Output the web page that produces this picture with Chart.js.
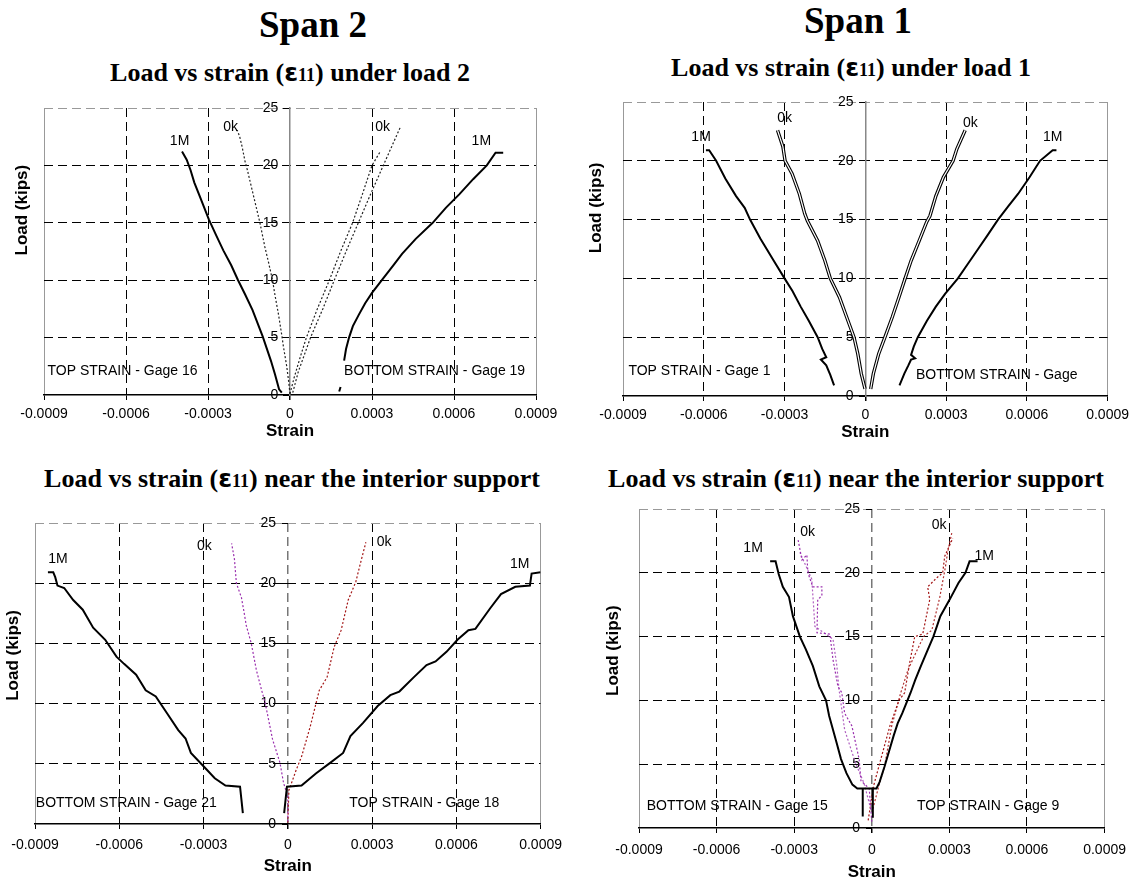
<!DOCTYPE html>
<html>
<head>
<meta charset="utf-8">
<title>Load vs strain</title>
<script src="https://cdn.jsdelivr.net/npm/chart.js@4.4.0/dist/chart.umd.min.js"></script>
<style>
  body { margin: 0; width: 1135px; height: 883px; background: #fff; position: relative; overflow: hidden;
         font-family: 'Liberation Serif', 'Times New Roman', serif; }
  .head { position: absolute; font-weight: bold; white-space: nowrap; transform: translateX(-50%); line-height: 1; color: #000; }
  .span { font-size: 37px; }
  .sub { font-size: 26px; }
  .eps { font-family: 'DejaVu Sans', sans-serif; font-size: 25px; }
  .idx { font-size: 18px; }
  canvas { position: absolute; }
</style>
</head>
<body>
<div class="head span" style="left:313px;top:6px">Span 2</div>
<div class="head span" style="left:858px;top:2px">Span 1</div>
<div class="head sub" style="left:290px;top:60px">Load vs strain (<span class="eps">ε</span><span class="idx">11</span>) under load 2</div>
<div class="head sub" style="left:851px;top:55px">Load vs strain (<span class="eps">ε</span><span class="idx">11</span>) under load 1</div>
<div class="head sub" style="left:292px;top:466px">Load vs strain (<span class="eps">ε</span><span class="idx">11</span>) near the interior support</div>
<div class="head sub" style="left:856px;top:466px">Load vs strain (<span class="eps">ε</span><span class="idx">11</span>) near the interior support</div>

<canvas id="span2Load" width="565" height="357" style="left:0;top:88px"></canvas>
<canvas id="span1Load" width="565" height="364" style="left:570px;top:82px"></canvas>
<canvas id="span2Support" width="570" height="377" style="left:0;top:503px"></canvas>
<canvas id="span1Support" width="565" height="392" style="left:570px;top:494px"></canvas>

<script>
// axis ticks
const strainTicks = [-0.0009, -0.0006, -0.0003, 0, 0.0003, 0.0006, 0.0009];
const loadTicks = [0, 5, 10, 15, 20, 25];

// readings as [strain, load (kips)]; 1M = after 1 million cycles, 0k = initial static test

// Span 2, under load 2
const gage16_1M = [[-0.000030,0.2],[-0.000040,0.5],[-0.000055,1.8],[-0.000070,3.0],[-0.000100,5.1],[-0.000137,7.4],[-0.000165,8.8],[-0.000190,10.0],[-0.000215,11.3],[-0.000244,12.6],[-0.000270,13.9],[-0.000297,15.3],[-0.000330,17.3],[-0.000350,18.5],[-0.000364,19.6],[-0.000378,20.5],[-0.000395,21.2]];
const gage16_0k = [[0.000000,0.1],[-0.000005,1.2],[-0.000012,2.5],[-0.000024,4.2],[-0.000030,5.2],[-0.000042,7.0],[-0.000055,8.7],[-0.000064,10.0],[-0.000078,11.5],[-0.000092,12.9],[-0.000110,15.0],[-0.000120,16.0],[-0.000140,18.0],[-0.000156,19.6],[-0.000165,20.4],[-0.000175,21.6],[-0.000184,22.5],[-0.000192,23.0],[-0.000200,23.1]];
const gage19_1M = [[0.000180,0.3],[0.000185,0.7],null,[0.000198,3.0],[0.000205,4.0],[0.000216,5.0],[0.000230,6.0],[0.000252,7.0],[0.000275,8.0],[0.000300,8.9],[0.000336,10.0],[0.000378,11.3],[0.000410,12.3],[0.000460,13.6],[0.000522,15.0],[0.000570,16.3],[0.000620,17.5],[0.000670,18.8],[0.000720,20.0],[0.000752,21.1],[0.000780,21.1]];
const gage19_0kA = [[0.000000,0.1],[0.000015,1.5],[0.000040,3.5],[0.000060,5.0],[0.000100,7.5],[0.000144,10.0],[0.000185,12.5],[0.000229,15.0],[0.000265,17.5],[0.000300,20.0],[0.000330,21.2]];
const gage19_0kB = [[0.000010,0.2],[0.000030,2.0],[0.000075,5.0],[0.000120,7.5],[0.000162,10.0],[0.000205,12.5],[0.000250,15.0],[0.000295,17.5],[0.000347,20.3],[0.000375,21.8],[0.000405,23.4]];

// Span 1, under load 1
const gage1_1M = [[-0.000116,0.9],[-0.000130,1.8],[-0.000145,2.6],[-0.000165,3.1],[-0.000145,3.3],[-0.000160,4.0],[-0.000177,5.0],[-0.000210,6.4],[-0.000240,7.6],[-0.000270,8.9],[-0.000300,10.0],[-0.000340,11.5],[-0.000390,13.4],[-0.000428,15.0],[-0.000448,16.0],[-0.000480,17.0],[-0.000520,18.5],[-0.000554,20.0],[-0.000580,20.9],[-0.000592,20.9]];
const gage1_0k = [[-0.000001,0.6],[-0.000015,1.9],[-0.000028,3.6],[-0.000042,5.0],[-0.000069,6.7],[-0.000096,8.4],[-0.000130,10.0],[-0.000150,11.5],[-0.000177,13.2],[-0.000215,14.9],[-0.000225,15.5],[-0.000245,17.2],[-0.000272,18.9],[-0.000298,20.0],[-0.000306,21.2],[-0.000326,22.6]];
const gageB_1M = [[0.000127,0.9],[0.000145,1.9],[0.000160,2.6],[0.000170,3.1],[0.000185,3.2],[0.000170,3.5],[0.000180,4.2],[0.000195,5.0],[0.000229,6.4],[0.000262,7.6],[0.000297,8.7],[0.000344,10.0],[0.000380,11.2],[0.000419,12.5],[0.000455,13.7],[0.000493,15.0],[0.000530,16.1],[0.000568,17.2],[0.000610,18.6],[0.000649,20.0],[0.000696,20.9],[0.000710,20.9]];
const gageB_0k = [[0.000020,0.6],[0.000030,1.9],[0.000050,3.6],[0.000073,5.0],[0.000100,6.7],[0.000125,8.4],[0.000148,10.0],[0.000170,11.5],[0.000200,13.2],[0.000228,14.8],[0.000240,15.3],[0.000262,17.0],[0.000290,18.6],[0.000326,20.0],[0.000340,21.0],[0.000371,22.6]];

// Span 2, near the interior support
const gage21_1M = [[-0.000160,0.9],[-0.000165,2.0],[-0.000170,3.1],[-0.000222,3.2],[-0.000260,3.8],[-0.000300,4.8],[-0.000345,5.9],[-0.000364,7.1],[-0.000390,7.8],[-0.000430,9.2],[-0.000470,10.6],[-0.000506,11.1],[-0.000540,12.4],[-0.000583,13.3],[-0.000610,13.9],[-0.000650,15.3],[-0.000693,16.3],[-0.000730,17.8],[-0.000764,18.6],[-0.000796,19.6],[-0.000820,19.8],[-0.000828,20.5],[-0.000835,20.9],[-0.000854,20.9]];
const gage18_1M = [[-0.000013,0.9],[-0.000008,2.0],[-0.000003,3.1],[0.000049,3.2],[0.000100,4.2],[0.000152,5.1],[0.000197,5.9],[0.000223,7.3],[0.000268,8.4],[0.000320,9.8],[0.000365,10.7],[0.000397,11.0],[0.000449,12.2],[0.000494,13.2],[0.000526,13.5],[0.000565,14.3],[0.000604,15.3],[0.000643,16.1],[0.000668,16.2],[0.000720,17.9],[0.000759,19.1],[0.000810,19.7],[0.000862,19.8],[0.000868,20.8],[0.000900,20.9]];
const gage21_0k = [[0.000000,0.2],[0.000000,2.3],[-0.000015,3.4],[-0.000028,5.1],[-0.000054,7.0],[-0.000080,10.0],[-0.000093,11.1],[-0.000112,12.8],[-0.000130,15.0],[-0.000148,16.5],[-0.000155,17.5],[-0.000165,18.8],[-0.000183,20.0],[-0.000190,22.0],[-0.000200,23.3]];
const gage18_0k = [[0.000000,0.1],[0.000004,2.8],[0.000030,4.5],[0.000049,5.6],[0.000080,8.1],[0.000112,11.1],[0.000140,12.2],[0.000165,14.7],[0.000190,16.1],[0.000215,18.6],[0.000242,20.1],[0.000258,21.6],[0.000278,23.4]];

// Span 1, near the interior support
const gage15_1M = [[-0.000035,0.9],[-0.000035,3.1],[0.000004,3.1],[-0.000056,3.1],[-0.000075,3.4],[-0.000098,4.3],[-0.000119,5.4],[-0.000135,6.6],[-0.000150,7.7],[-0.000165,8.8],[-0.000177,10.0],[-0.000203,11.1],[-0.000228,12.7],[-0.000255,14.0],[-0.000278,15.0],[-0.000305,16.6],[-0.000320,18.1],[-0.000344,18.9],[-0.000360,19.9],[-0.000372,20.9],[-0.000393,20.9]];
const gage9_1M = [[0.000004,0.8],[0.000004,2.0],[0.000004,3.1],[0.000018,3.1],[0.000030,3.6],[0.000049,4.8],[0.000065,5.9],[0.000084,7.2],[0.000100,8.2],[0.000118,9.0],[0.000150,10.6],[0.000168,11.6],[0.000190,12.7],[0.000217,14.0],[0.000238,15.0],[0.000265,16.6],[0.000301,17.9],[0.000335,19.2],[0.000362,20.0],[0.000378,20.9],[0.000409,20.9]];
const gage15_0kA = [[0.000000,0.5],[-0.000010,3.1],[-0.000042,3.7],[-0.000049,5.4],[-0.000077,8.0],[-0.000105,9.0],[-0.000116,10.6],[-0.000131,11.1],[-0.000150,13.2],[-0.000162,15.2],[-0.000212,15.3],[-0.000209,17.9],[-0.000193,18.2],[-0.000193,18.9],[-0.000228,18.9],[-0.000247,20.0],[-0.000251,21.4],[-0.000270,21.0],[-0.000286,22.7]];
const gage15_0kB = [[-0.000004,1.5],[-0.000030,3.5],[-0.000063,5.1],[-0.000105,7.7],[-0.000127,10.9],[-0.000135,12.7],[-0.000150,14.8],[-0.000220,15.8],[-0.000232,19.5],[-0.000278,21.6]];
const gage9_0kA = [[-0.000014,0.6],[0.000007,3.3],[0.000035,5.4],[0.000070,8.0],[0.000105,10.0],[0.000127,10.6],[0.000147,13.0],[0.000166,15.0],[0.000197,15.2],[0.000224,17.9],[0.000216,18.9],[0.000251,19.6],[0.000274,20.0],[0.000282,21.3],[0.000313,22.7]];
const gage9_0kB = [[0.000004,1.5],[0.000030,3.5],[0.000049,4.8],[0.000077,8.0],[0.000112,10.6],[0.000140,12.4],[0.000172,13.8],[0.000200,15.0],[0.000232,15.5],[0.000250,17.0],[0.000263,18.1],[0.000285,20.5],[0.000293,21.6],[0.000310,23.2]];

Chart.defaults.font.family = '"Liberation Sans", Arial, sans-serif';
Chart.defaults.font.size = 14;
Chart.defaults.color = '#000';

const toPoints = arr => arr.map(p => p ? { x: p[0], y: p[1] } : { x: null, y: null });

function solid(data) {
  return { data: toPoints(data), borderColor: '#000', borderWidth: 2, showLine: true, pointRadius: 0, order: 0 };
}
function dotted(data, color) {
  return { data: toPoints(data), borderColor: color, borderWidth: 1.2, borderDash: [2, 2], showLine: true, pointRadius: 0, order: 1 };
}
// thin double line: black stroke with a white core
function hollow(data) {
  return [
    { data: toPoints(data), borderColor: '#fff', borderWidth: 1.2, showLine: true, pointRadius: 0, order: 1 },
    { data: toPoints(data), borderColor: '#000', borderWidth: 3.4, showLine: true, pointRadius: 0, order: 2 }
  ];
}

// text inside the plot area and the rotated load title
const notesPlugin = {
  id: 'notes',
  afterDatasetsDraw(chart, args, opts) {
    const { ctx, scales: { x, y }, chartArea } = chart;
    ctx.save();
    ctx.fillStyle = '#000';
    ctx.font = '14px "Liberation Sans", Arial, sans-serif';
    ctx.textBaseline = 'middle';
    opts.labels.forEach(n => {
      ctx.textAlign = n.align || 'center';
      ctx.fillText(n.text, x.getPixelForValue(n.x), y.getPixelForValue(n.y));
    });
    ctx.font = 'bold 17px "Liberation Sans", Arial, sans-serif';
    ctx.translate(chartArea.left - opts.titleGap, y.getPixelForValue(opts.titleLoad));
    ctx.rotate(-Math.PI / 2);
    ctx.textAlign = 'center';
    ctx.fillText('Load (kips)', 0, 0);
    ctx.restore();
  }
};

function drawPanel(id, cfg) {
  const edge = v => Math.abs(v) > 0.00089;
  new Chart(document.getElementById(id), {
    type: 'scatter',
    data: { datasets: cfg.datasets },
    options: {
      responsive: false,
      animation: false,
      layout: { padding: cfg.padding },
      plugins: {
        legend: { display: false },
        tooltip: { enabled: false },
        notes: { labels: cfg.notes, titleLoad: cfg.titleLoad, titleGap: cfg.titleGap }
      },
      scales: {
        x: {
          type: 'linear', position: 'bottom', min: -0.0009, max: 0.0009,
          afterBuildTicks: s => { s.ticks = strainTicks.map(v => ({ value: v })); },
          afterFit: s => { s.height = cfg.xHeight; },
          ticks: { padding: cfg.tickPad, maxRotation: 0, autoSkip: false, callback: v => String(v) },
          grid: {
            color: c => {
              const v = c.tick.value;
              if (edge(v)) return '#999';
              if (v === 0) return cfg.zeroDashed ? '#777' : 'rgba(0,0,0,0)';
              return '#000';
            },
            lineWidth: c => (c.tick.value === 0 ? 1.5 : 1),
            tickColor: '#000', tickLength: 5, tickBorderDash: []
          },
          border: { display: true, color: '#000', width: 1.5, dash: c => (edge(c.tick.value) ? [] : [9, 5]) },
          title: { display: true, text: 'Strain', font: { size: 17, weight: 'bold' }, padding: { top: 0, bottom: 3 } }
        },
        y: {
          type: 'linear', position: { x: 0 }, min: 0, max: 25,
          afterBuildTicks: s => { s.ticks = loadTicks.map(v => ({ value: v })); },
          // labels sit right-aligned on the centre axis; trailing spaces keep them off the tick marks
          ticks: { callback: v => v + '   ' },
          grid: {
            color: c => {
              const v = c.tick.value;
              if (v === 0) return 'rgba(0,0,0,0)';
              return v === 25 ? '#999' : '#000';
            },
            tickColor: '#000', tickLength: 6, tickBorderDash: []
          },
          border: { display: !cfg.zeroDashed, color: '#888', width: 1.5, dash: [9, 5] }
        }
      }
    },
    plugins: [notesPlugin]
  });
}

drawPanel('span2Load', {
  padding: { left: 44, top: 20, right: 29, bottom: 0 }, xHeight: 50, tickPad: 6,
  titleLoad: 16.1, titleGap: 22, zeroDashed: false,
  datasets: [
    solid(gage16_1M), solid(gage19_1M),
    dotted(gage16_0k, '#222'), dotted(gage19_0kA, '#222'), dotted(gage19_0kB, '#222')
  ],
  notes: [
    { text: '1M', x: -0.000404, y: 22.1 }, { text: '0k', x: -0.000217, y: 23.3 },
    { text: '0k', x: 0.000339, y: 23.3 }, { text: '1M', x: 0.0007, y: 22.1 },
    { text: 'TOP STRAIN - Gage 16', x: -0.000887, y: 2.1, align: 'left' },
    { text: 'BOTTOM STRAIN - Gage 19', x: 0.000198, y: 2.1, align: 'left' }
  ]
});

drawPanel('span1Load', {
  padding: { left: 53, top: 20, right: 26, bottom: 0 }, xHeight: 50, tickPad: 6,
  titleLoad: 16, titleGap: 27, zeroDashed: false,
  datasets: [solid(gage1_1M), solid(gageB_1M), ...hollow(gage1_0k), ...hollow(gageB_0k)],
  notes: [
    { text: '1M', x: -0.00061, y: 22.0 }, { text: '0k', x: -0.0003, y: 23.6 },
    { text: '0k', x: 0.00039, y: 23.2 }, { text: '1M', x: 0.000696, y: 22.0 },
    { text: 'TOP STRAIN - Gage 1', x: -0.00088, y: 2.1, align: 'left' },
    { text: 'BOTTOM STRAIN - Gage', x: 0.000188, y: 1.75, align: 'left' }
  ]
});

drawPanel('span2Support', {
  padding: { left: 35, top: 20, right: 24, bottom: 0 }, xHeight: 56, tickPad: 8,
  titleLoad: 14, titleGap: 22, zeroDashed: true,
  datasets: [
    solid(gage21_1M), solid(gage18_1M),
    dotted(gage21_0k, '#9a2fae'), dotted(gage18_0k, '#a31515')
  ],
  notes: [
    { text: '1M', x: -0.000818, y: 22.0 }, { text: '0k', x: -0.000297, y: 23.1 },
    { text: '0k', x: 0.000343, y: 23.4 }, { text: '1M', x: 0.000826, y: 21.6 },
    { text: 'BOTTOM STRAIN - Gage 21', x: -0.000897, y: 1.7, align: 'left' },
    { text: 'TOP STRAIN - Gage 18', x: 0.000219, y: 1.7, align: 'left' }
  ]
});

drawPanel('span1Support', {
  padding: { left: 69, top: 15, right: 26, bottom: 0 }, xHeight: 58, tickPad: 9,
  titleLoad: 13.9, titleGap: 26, zeroDashed: true,
  datasets: [
    solid(gage15_1M), solid(gage9_1M),
    dotted(gage15_0kA, '#9a2fae'), dotted(gage15_0kB, '#b060c0'),
    dotted(gage9_0kA, '#a31515'), dotted(gage9_0kB, '#b03030')
  ],
  notes: [
    { text: '1M', x: -0.000459, y: 21.9 }, { text: '0k', x: -0.000248, y: 23.2 },
    { text: '0k', x: 0.00026, y: 23.7 }, { text: '1M', x: 0.000435, y: 21.3 },
    { text: 'BOTTOM STRAIN - Gage 15', x: -0.00087, y: 1.7, align: 'left' },
    { text: 'TOP STRAIN - Gage 9', x: 0.000175, y: 1.7, align: 'left' }
  ]
});
</script>
</body>
</html>
